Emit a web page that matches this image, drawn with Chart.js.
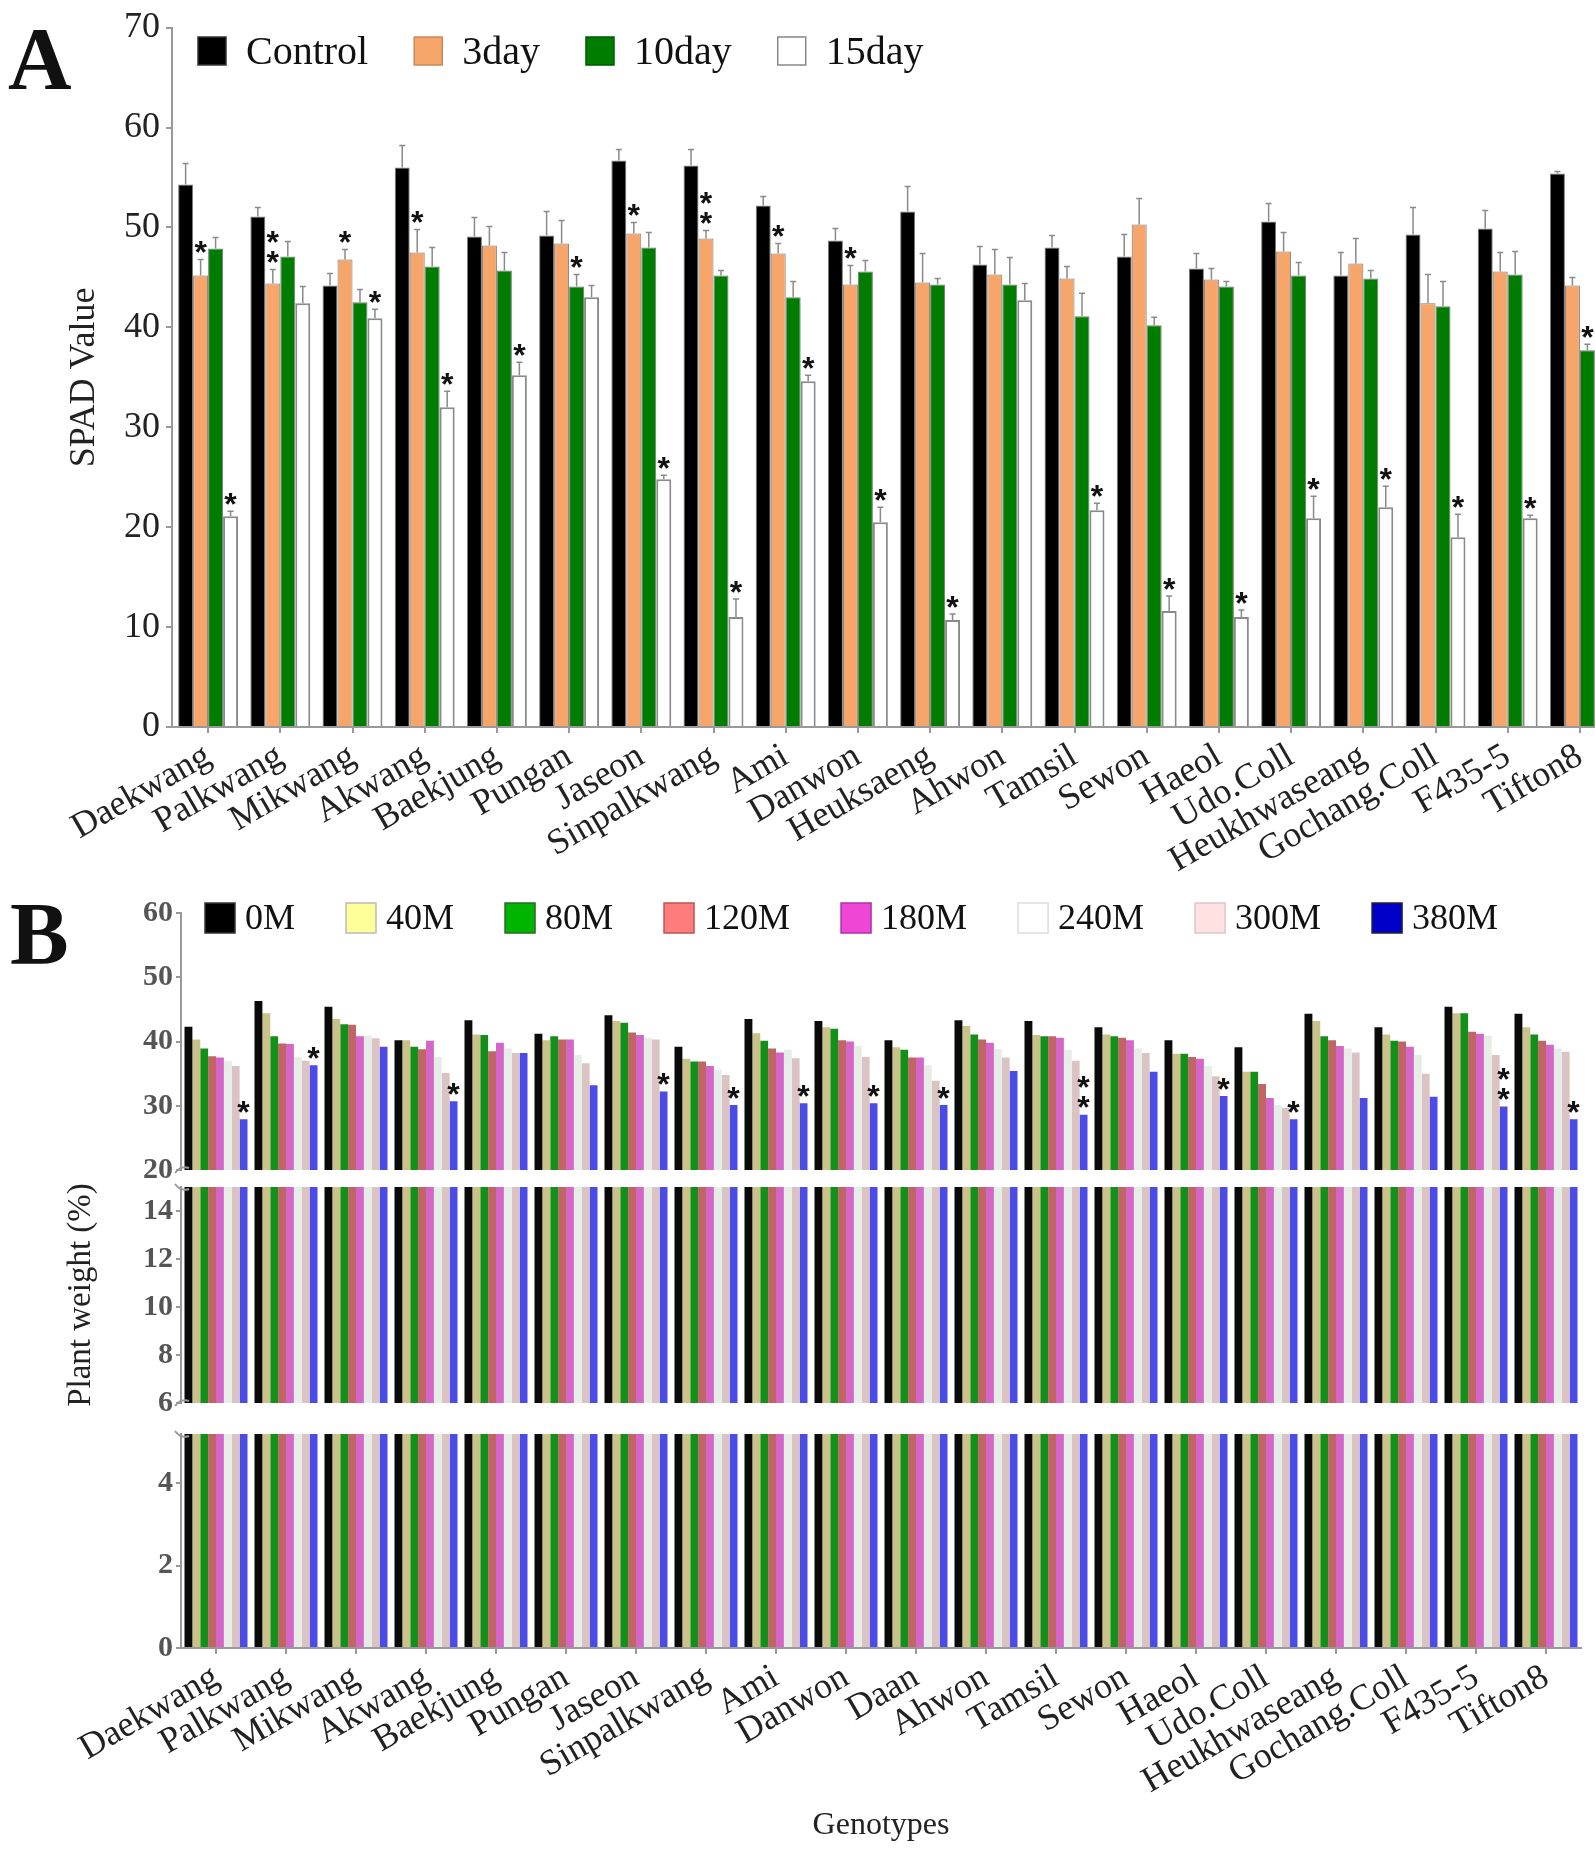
<!DOCTYPE html>
<html>
<head>
<meta charset="utf-8">
<title>SPAD value and plant weight by genotype</title>
<script src="https://cdn.jsdelivr.net/npm/chart.js@4.4.1/dist/chart.umd.min.js"></script>
<style>
    body { margin: 0; background: #fff; width: 1595px; height: 1860px; position: relative; overflow: hidden; }
    .tag { position: absolute; font: bold 88px/1 "Liberation Serif", serif; color: #111; }
    #boxA { position: absolute; left: 0; top: 0; width: 1595px; height: 880px; overflow: hidden; }
    #boxB { position: absolute; left: 0; top: 880px; width: 1595px; height: 980px; }
    #boxB canvas { position: absolute; left: 0; top: 0; }
</style>
</head>
<body>
<div class="tag" style="left:8px; top:15px;">A</div>
<div id="boxA"><canvas id="chartA" width="1640" height="880"></canvas></div>
<div class="tag" style="left:10px; top:890px;">B</div>
<div id="boxB">
    <canvas id="chartBtop" width="1595" height="980"></canvas>
    <canvas id="chartBmid" width="1595" height="980"></canvas>
    <canvas id="chartBlow" width="1595" height="980"></canvas>
</div>
<script>
// ---- panel A : SPAD value ----
var genotypesA = ['Daekwang', 'Palkwang', 'Mikwang', 'Akwang', 'Baekjung', 'Pungan', 'Jaseon', 'Sinpalkwang', 'Ami', 'Danwon',
    'Heuksaeng', 'Ahwon', 'Tamsil', 'Sewon', 'Haeol', 'Udo.Coll', 'Heukhwaseang', 'Gochang.Coll', 'F435-5', 'Tifton8'];
var seriesA = ['Control', '3day', '10day', '15day'];

var control = [54.3, 51.1, 44.2, 56.0, 49.1, 49.2, 56.7, 56.2, 52.2, 48.7, 51.6, 46.3, 48.0, 47.1, 45.9, 50.6, 45.2, 49.3, 49.9, 55.4];
var controlErr = [2.1, 0.9, 1.2, 2.2, 1.9, 2.4, 1.1, 1.6, 0.9, 1.2, 2.5, 1.8, 1.2, 2.2, 1.5, 1.8, 2.3, 2.7, 1.8, 0.2];
var day3 = [45.2, 44.4, 46.8, 47.5, 48.2, 48.4, 49.4, 48.9, 47.4, 44.3, 44.5, 45.3, 44.9, 50.3, 44.8, 47.6, 46.4, 42.4, 45.6, 44.2];
var day3Err = [1.6, 1.4, 1.0, 2.3, 1.9, 2.3, 1.1, 0.8, 1.0, 1.9, 2.9, 2.5, 1.2, 2.6, 1.1, 1.9, 2.5, 2.9, 1.9, 0.8];
var day10 = [47.9, 47.1, 42.5, 46.1, 45.7, 44.1, 48.0, 45.2, 43.0, 45.6, 44.3, 44.3, 41.1, 40.2, 44.1, 45.2, 44.9, 42.1, 45.3, 37.7];
var day10Err = [1.1, 1.5, 1.3, 1.9, 1.8, 1.2, 1.5, 0.5, 1.6, 1.1, 0.6, 2.7, 2.3, 0.8, 0.5, 1.3, 0.8, 2.5, 2.3, 0.6];
var day15 = [21.1, 42.4, 40.9, 32.0, 35.2, 43.0, 24.8, 11.0, 34.6, 20.5, 10.7, 42.7, 21.7, 11.6, 11.0, 20.9, 22.0, 19.0, 20.9, 21.0];
var day15Err = [0.5, 1.7, 0.9, 1.6, 1.3, 1.2, 0.4, 1.8, 0.6, 1.5, 0.6, 1.7, 0.7, 1.5, 0.7, 2.2, 2.1, 2.3, 0.3, 0.3];
// number of asterisks above each bar
var star3day = [1, 2, 1, 1, 0, 0, 1, 2, 1, 1, 0, 0, 0, 0, 0, 0, 0, 0, 0, 0];
var star10day = [0, 0, 0, 0, 0, 1, 0, 0, 0, 0, 0, 0, 0, 0, 0, 0, 0, 0, 0, 1];
var star15day = [1, 0, 1, 1, 1, 0, 1, 1, 1, 1, 1, 0, 1, 1, 1, 1, 1, 1, 1, 1];

// ---- panel B : plant weight ----
var genotypesB = ['Daekwang', 'Palkwang', 'Mikwang', 'Akwang', 'Baekjung', 'Pungan', 'Jaseon', 'Sinpalkwang', 'Ami', 'Danwon',
    'Daan', 'Ahwon', 'Tamsil', 'Sewon', 'Haeol', 'Udo.Coll', 'Heukhwaseang', 'Gochang.Coll', 'F435-5', 'Tifton8'];
var seriesB = ['0M', '40M', '80M', '120M', '180M', '240M', '300M', '380M'];

var m0 = [42.3, 46.3, 45.4, 40.2, 43.3, 41.2, 44.1, 39.2, 43.5, 43.2, 40.2, 43.3, 43.2, 42.2, 40.2, 39.1, 44.3, 42.2, 45.4, 44.3];
var m40 = [40.3, 44.4, 43.5, 40.2, 41.1, 40.2, 43.2, 37.3, 41.3, 42.2, 39.1, 42.4, 41.0, 41.1, 38.1, 35.3, 43.2, 41.1, 44.4, 42.2];
var m80 = [38.9, 40.8, 42.7, 39.2, 41.0, 40.8, 42.9, 36.9, 40.1, 42.0, 38.7, 41.1, 40.8, 40.8, 38.1, 35.3, 40.8, 40.1, 44.4, 41.1];
var m120 = [37.7, 39.7, 42.6, 38.8, 38.5, 40.3, 41.4, 36.9, 38.9, 40.2, 37.5, 40.3, 40.8, 40.6, 37.6, 33.4, 40.2, 40.0, 41.5, 40.1];
var m180 = [37.5, 39.6, 40.8, 40.1, 39.8, 40.3, 41.0, 36.2, 38.3, 40.0, 37.5, 39.8, 40.6, 40.2, 37.3, 31.2, 39.3, 39.2, 41.2, 39.5];
var m240 = [37.0, 37.6, 40.9, 37.6, 38.9, 37.9, 40.6, 35.6, 38.7, 39.3, 36.3, 38.8, 38.7, 38.9, 36.2, 30.1, 38.9, 37.9, 40.9, 38.9];
var m300 = [36.2, 37.0, 40.5, 35.1, 38.2, 36.6, 40.3, 34.8, 37.4, 37.6, 33.9, 37.5, 37.0, 38.2, 34.6, 29.7, 38.3, 35.0, 37.9, 38.4];
var m380 = [27.9, 36.3, 39.2, 30.7, 38.2, 33.2, 32.2, 30.1, 30.4, 30.4, 30.1, 35.4, 28.6, 35.3, 31.5, 27.9, 31.2, 31.4, 29.9, 27.9];
var star380 = [1, 1, 0, 1, 0, 0, 1, 1, 1, 1, 1, 0, 2, 0, 1, 1, 0, 0, 2, 1];

// tick values of the three pieces of the broken axis
var ticksTop = [20, 25, 30, 35, 40, 45, 50, 55, 60];
var ticksMid = [6, 8, 10, 12, 14];
var ticksLow = [0, 2, 4];

Chart.defaults.font.family = '"Liberation Serif", "Times New Roman", serif';
Chart.defaults.color = '#222';

var serif = '"Liberation Serif", "Times New Roman", serif';

// vertical error bars (upper half only)
var errorBars = {
    id: 'errorBars',
    afterDatasetsDraw: function (chart) {
        var ctx = chart.ctx;
        var y = chart.scales.y;
        ctx.save();
        ctx.strokeStyle = '#8a8a8a';
        ctx.lineWidth = 1.5;
        chart.data.datasets.forEach(function (ds, i) {
            if (!ds.errors) return;
            chart.getDatasetMeta(i).data.forEach(function (bar, j) {
                var top = y.getPixelForValue(ds.data[j] + ds.errors[j]);
                ctx.beginPath();
                ctx.moveTo(bar.x, bar.y);
                ctx.lineTo(bar.x, top);
                ctx.moveTo(bar.x - 3, top);
                ctx.lineTo(bar.x + 3, top);
                ctx.stroke();
            });
        });
        ctx.restore();
    }
};

// significance asterisks
var starMarks = {
    id: 'starMarks',
    afterDatasetsDraw: function (chart) {
        var ctx = chart.ctx;
        var y = chart.scales.y;
        var size = 32;
        ctx.save();
        ctx.fillStyle = '#111';
        ctx.font = 'bold ' + size + 'px "Liberation Sans", Arial, sans-serif';
        ctx.textAlign = 'center';
        ctx.textBaseline = 'alphabetic';
        chart.data.datasets.forEach(function (ds, i) {
            if (!ds.stars) return;
            chart.getDatasetMeta(i).data.forEach(function (bar, j) {
                var top = y.getPixelForValue(ds.data[j] + (ds.errors ? ds.errors[j] : 0));
                for (var k = 0; k < ds.stars[j]; k++) {
                    var cy = top - 15 - k * 20;
                    ctx.fillText('*', bar.x, cy + 0.58 * size);
                }
            });
        });
        ctx.restore();
    }
};

// legend drawn inside the plot area
var boxLegend = {
    id: 'boxLegend',
    afterDraw: function (chart, args, opts) {
        if (!opts.show) return;
        var ctx = chart.ctx;
        var x = chart.chartArea.left + opts.dx;
        var yMid = opts.y;
        ctx.save();
        ctx.font = opts.font;
        ctx.textBaseline = 'middle';
        ctx.textAlign = 'left';
        chart.data.datasets.forEach(function (ds, i) {
            ctx.fillStyle = opts.colors[i];
            ctx.fillRect(x, yMid - opts.box / 2, opts.box, opts.box);
            ctx.strokeStyle = opts.edges[i];
            ctx.lineWidth = 1.5;
            ctx.strokeRect(x, yMid - opts.box / 2, opts.box, opts.box);
            x += opts.box + opts.textGap;
            ctx.fillStyle = '#111';
            ctx.fillText(ds.label, x, yMid + 2);
            x += ctx.measureText(ds.label).width + opts.itemGap;
        });
        ctx.restore();
    }
};

// small curved marks where the y axis is broken
var axisBreak = {
    id: 'axisBreak',
    afterDraw: function (chart, args, opts) {
        var ctx = chart.ctx;
        var a = chart.chartArea;
        ctx.save();
        ctx.strokeStyle = '#999';
        ctx.lineWidth = 2;
        (opts.at || []).forEach(function (edge) {
            var yy = edge === 'top' ? a.top : a.bottom;
            var d = edge === 'top' ? -1 : 1;
            ctx.beginPath();
            ctx.moveTo(a.left - 6, yy + 3 * d);
            ctx.quadraticCurveTo(a.left, yy - 5 * d, a.left + 8, yy - 2 * d);
            ctx.stroke();
        });
        ctx.restore();
    }
};

// ---------- chart A ----------
var colorsA = ['#000000', '#f6a66b', '#007d00', '#ffffff'];
var datasetsA = [
    { label: seriesA[0], data: control, errors: controlErr },
    { label: seriesA[1], data: day3, errors: day3Err, stars: star3day },
    { label: seriesA[2], data: day10, errors: day10Err, stars: star10day },
    { label: seriesA[3], data: day15, errors: day15Err, stars: star15day }
];
datasetsA.forEach(function (ds, i) {
    ds.backgroundColor = colorsA[i];
    ds.borderColor = i === 3 ? '#8a8a8a' : '#7a7a7a';
    ds.borderWidth = i === 3 ? 2 : 1;
});

new Chart(document.getElementById('chartA'), {
    type: 'bar',
    data: { labels: genotypesA, datasets: datasetsA },
    options: {
        responsive: false,
        animation: false,
        layout: { padding: { top: 24, right: 24, left: 0, bottom: 0 } },
        datasets: { bar: { categoryPercentage: 0.83, barPercentage: 1 } },
        plugins: {
            legend: { display: false },
            tooltip: { enabled: false },
            boxLegend: {
                show: true, dx: 26, y: 51, box: 28, textGap: 20, itemGap: 46,
                font: '40px ' + serif,
                colors: colorsA,
                edges: ['#333', '#c98a5a', '#005a00', '#888']
            }
        },
        scales: {
            x: {
                offset: true,
                grid: { drawOnChartArea: false, offset: false, color: '#999', lineWidth: 2, tickLength: 6 },
                border: { color: '#999', width: 2 },
                ticks: { autoSkip: false, minRotation: 30, maxRotation: 30, padding: 2, color: '#222', font: { size: 36 } },
                afterFit: function (s) { s.height = 153; }
            },
            y: {
                min: 0, max: 70,
                grid: { drawOnChartArea: false, color: '#999', lineWidth: 2, tickLength: 6 },
                border: { color: '#999', width: 2 },
                ticks: { stepSize: 10, padding: 6, color: '#222', font: { size: 36 } },
                title: { display: true, text: 'SPAD Value', color: '#222', font: { size: 36 }, padding: { top: 63, bottom: 0 } },
                afterFit: function (s) { s.width = 172; }
            }
        }
    },
    plugins: [errorBars, starMarks, boxLegend]
});

// ---------- chart B (three segments of a broken y axis) ----------
var colorsB = ['#0a0a0a', '#c9c38a', '#12901a', '#c06464', '#d466c8', '#e6ece6', '#dcc3c3', '#4b4be6'];
var legendColorsB = ['#000000', '#ffff99', '#00b400', '#ff7c7c', '#f046d6', '#ffffff', '#ffe1e1', '#0000c8'];
var legendEdgesB = ['#333', '#bbb', '#2a6a2a', '#b55', '#a3a', '#ddd', '#d8c8c8', '#223'];
var valuesB = [m0, m40, m80, m120, m180, m240, m300, m380];

function datasetsB(withStars) {
    return seriesB.map(function (name, i) {
        var ds = { label: name, data: valuesB[i], backgroundColor: colorsB[i], borderWidth: 0 };
        if (withStars && i === 7) ds.stars = star380;
        return ds;
    });
}

function yAxisB(min, max, tickValues, label) {
    return {
        min: min, max: max,
        grid: { drawOnChartArea: false, color: '#999', lineWidth: 2, tickLength: 5 },
        border: { color: '#999', width: 2 },
        ticks: {
            padding: 3, color: '#555',
            font: { size: 30, weight: 'bold' },
            // only every second tick of the upper piece carries a label
            callback: function (v) { return v > 15 && v % 10 !== 0 ? '' : v; }
        },
        afterBuildTicks: function (s) {
            s.ticks = tickValues.map(function (v) { return { value: v }; });
        },
        title: label ? { display: true, text: label, color: '#222', font: { size: 33 }, padding: { top: 62, bottom: 0 } } : { display: false },
        afterFit: function (s) { s.width = 181; }
    };
}

function xAxisB(show) {
    var axis = {
        display: show,
        offset: true,
        grid: { drawOnChartArea: false, offset: false, color: '#999', lineWidth: 2, tickLength: 6 },
        border: { color: '#999', width: 2 },
        ticks: { autoSkip: false, minRotation: 30, maxRotation: 30, padding: 2, color: '#222', font: { size: 36 } },
        title: { display: show, text: 'Genotypes', color: '#222', font: { size: 32 }, padding: { top: 0, bottom: 15 } }
    };
    if (show) axis.afterFit = function (s) { s.height = 212; };
    return axis;
}

function makeB(id, padding, yAxis, showX, extra) {
    var pluginOpts = {
        legend: { display: false },
        tooltip: { enabled: false },
        boxLegend: extra.legend || { show: false },
        axisBreak: { at: extra.breaks }
    };
    return new Chart(document.getElementById(id), {
        type: 'bar',
        data: { labels: genotypesB, datasets: datasetsB(extra.stars) },
        options: {
            responsive: false,
            animation: false,
            layout: { padding: padding },
            datasets: { bar: { categoryPercentage: 0.9, barPercentage: 1 } },
            plugins: pluginOpts,
            scales: { x: xAxisB(showX), y: yAxis }
        },
        plugins: extra.stars ? [starMarks, boxLegend, axisBreak] : [boxLegend, axisBreak]
    });
}

makeB('chartBtop', { top: 33, bottom: 690, left: 0, right: 14 }, yAxisB(20, 60, ticksTop, null), false, {
    stars: true,
    breaks: ['bottom'],
    legend: {
        show: true, dx: 24, y: 38, box: 30, textGap: 10, itemGap: 51,
        font: '36px ' + serif,
        colors: legendColorsB,
        edges: legendEdgesB
    }
});
makeB('chartBmid', { top: 307, bottom: 457, left: 0, right: 14 }, yAxisB(6, 15, ticksMid, 'Plant weight (%)'), false, {
    stars: false,
    breaks: ['top', 'bottom']
});
makeB('chartBlow', { top: 554, bottom: 0, left: 0, right: 14 }, yAxisB(0, 5.2, ticksLow, null), true, {
    stars: false,
    breaks: ['top']
});
</script>
</body>
</html>
